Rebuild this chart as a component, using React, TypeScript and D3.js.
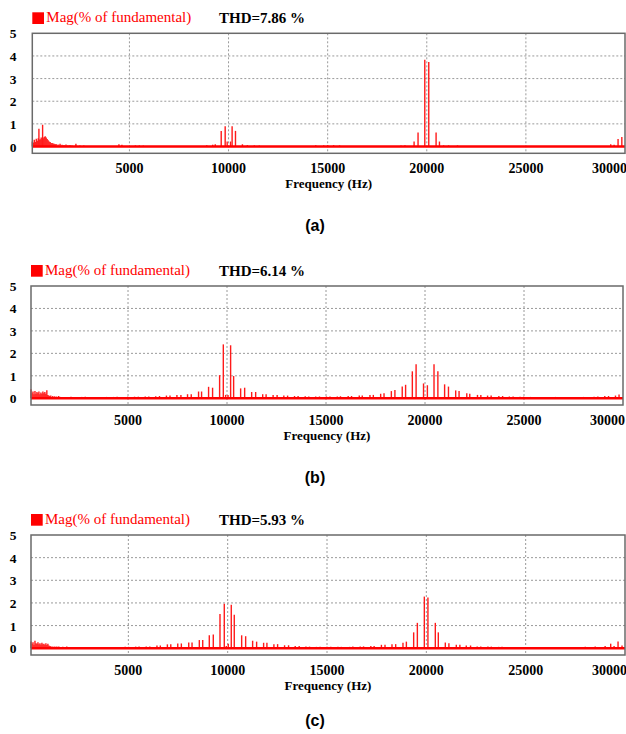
import * as d3 from "d3";

// harmonic spectra, [frequency Hz, magnitude % of fundamental]
const specA: [number, number][] = [
  [100, 0.22], [150, 0.18], [200, 0.3], [250, 0.2], [300, 0.34], [350, 0.25], [400, 0.36], [434, 0.78],
  [450, 0.3], [500, 0.32], [550, 0.4], [600, 0.3], [620, 0.96], [650, 0.36], [700, 0.42], [750, 0.45],
  [800, 0.4], [850, 0.33], [900, 0.28], [950, 0.22], [1000, 0.2], [1050, 0.16], [1100, 0.15], [1150, 0.13],
  [1200, 0.12], [1250, 0.1], [1300, 0.11], [1400, 0.09], [1500, 0.12], [1600, 0.08], [1700, 0.07],
  [1800, 0.09], [1900, 0.06], [2000, 0.07], [2100, 0.05], [2300, 0.12], [2500, 0.05], [2700, 0.04],
  [4470, 0.1], [4620, 0.08], [5300, 0.05], [5500, 0.05], [5700, 0.04], [8900, 0.06], [9200, 0.08],
  [9330, 0.1], [9630, 0.69], [9830, 0.9], [9930, 0.22], [10100, 0.22], [10180, 0.9], [10350, 0.69],
  [10700, 0.1], [10950, 0.06], [11300, 0.05], [11550, 0.04], [14400, 0.06], [14800, 0.05], [15000, 0.06],
  [15300, 0.06], [15600, 0.05], [18700, 0.05], [18900, 0.06], [19360, 0.22], [19560, 0.62], [19900, 3.83],
  [20100, 3.73], [20470, 0.62], [20640, 0.22], [20850, 0.05], [21100, 0.05], [21550, 0.05],
  [29280, 0.1], [29450, 0.08], [29650, 0.33], [29840, 0.42],
];

const specB: [number, number][] = [
  [100, 0.4], [150, 0.22], [200, 0.3], [250, 0.18], [300, 0.32], [350, 0.2], [400, 0.28], [450, 0.22],
  [500, 0.3], [550, 0.18], [600, 0.26], [650, 0.2], [700, 0.3], [750, 0.22], [800, 0.28], [850, 0.2],
  [900, 0.36], [950, 0.15], [1000, 0.12], [1050, 0.1], [1100, 0.12], [1200, 0.1], [1300, 0.09],
  [1400, 0.08], [1500, 0.1], [1590, 0.06], [1770, 0.06], [2120, 0.07], [2310, 0.06], [2660, 0.06],
  [2840, 0.07], [3190, 0.06], [3380, 0.06], [3730, 0.06], [3910, 0.06], [4260, 0.06], [4450, 0.07],
  [4800, 0.06], [4980, 0.07], [5330, 0.07], [5520, 0.07], [5870, 0.08], [6050, 0.08], [6400, 0.09],
  [6590, 0.1], [6940, 0.12], [7120, 0.12], [7470, 0.15], [7672, 0.15], [8006, 0.18], [8193, 0.18],
  [8563, 0.3], [8715, 0.3], [9069, 0.51], [9271, 0.47], [9626, 1.03], [9813, 2.4], [9930, 0.15],
  [10050, 0.15], [10182, 2.36], [10334, 0.99], [10688, 0.44], [10891, 0.47], [11245, 0.28], [11447, 0.28],
  [11802, 0.18], [11974, 0.18], [12328, 0.15], [12530, 0.15], [12870, 0.12], [13060, 0.12], [13410, 0.1],
  [13590, 0.1], [13950, 0.09], [14130, 0.08], [14480, 0.08], [14670, 0.08], [15020, 0.08], [15200, 0.08],
  [15570, 0.08], [15730, 0.09], [16120, 0.1], [16290, 0.1], [16680, 0.12], [16830, 0.12], [17220, 0.15],
  [17390, 0.15], [17760, 0.2], [17930, 0.22], [18300, 0.32], [18480, 0.37], [18850, 0.52], [19020, 0.6],
  [19360, 1.2], [19550, 1.52], [19925, 0.66], [20120, 0.58], [20455, 1.52], [20650, 1.2], [20990, 0.62],
  [21185, 0.52], [21550, 0.35], [21720, 0.32], [22110, 0.22], [22260, 0.2], [22650, 0.15], [22820, 0.15],
  [23160, 0.12], [23340, 0.12], [23730, 0.1], [23920, 0.1], [24260, 0.08], [24450, 0.08], [24800, 0.07],
  [24980, 0.07], [25330, 0.06], [25520, 0.06], [25870, 0.06], [26050, 0.06], [26400, 0.05], [26590, 0.06],
  [26940, 0.05], [27120, 0.06], [27470, 0.06], [27660, 0.05], [28010, 0.06], [28190, 0.06], [28540, 0.07],
  [28730, 0.08], [29080, 0.1], [29270, 0.1], [29620, 0.12], [29800, 0.17],
];

const specC: [number, number][] = [
  [100, 0.3], [150, 0.2], [200, 0.26], [250, 0.15], [300, 0.33], [350, 0.22], [400, 0.2], [450, 0.26],
  [500, 0.18], [550, 0.22], [600, 0.16], [650, 0.24], [700, 0.18], [750, 0.2], [800, 0.15], [850, 0.22],
  [900, 0.14], [950, 0.2], [1000, 0.12], [1050, 0.1], [1100, 0.09], [1200, 0.08], [1300, 0.08],
  [1400, 0.07], [1500, 0.08], [1700, 0.06], [1900, 0.07], [2100, 0.05], [2400, 0.05], [2900, 0.05],
  [3300, 0.05], [3800, 0.05], [4300, 0.05], [4840, 0.06], [5010, 0.06], [5370, 0.07], [5540, 0.07],
  [5900, 0.08], [6080, 0.08], [6440, 0.12], [6610, 0.12], [6965, 0.17], [7136, 0.17], [7487, 0.21],
  [7668, 0.21], [8040, 0.25], [8206, 0.25], [8573, 0.36], [8744, 0.36], [9075, 0.57], [9276, 0.6],
  [9613, 1.51], [9829, 1.96], [9930, 0.1], [10030, 0.2], [10181, 1.92], [10332, 1.48], [10704, 0.57],
  [10905, 0.53], [11256, 0.33], [11457, 0.29], [11809, 0.24], [11975, 0.24], [12327, 0.18], [12513, 0.18],
  [12864, 0.13], [13065, 0.13], [13400, 0.1], [13600, 0.1], [13940, 0.07], [14120, 0.07], [14470, 0.06],
  [14650, 0.06], [15000, 0.06], [15190, 0.06], [15550, 0.06], [15720, 0.06], [16140, 0.06], [16300, 0.07],
  [16670, 0.08], [16840, 0.08], [17206, 0.1], [17372, 0.1], [17739, 0.15], [17920, 0.15], [18271, 0.18],
  [18457, 0.18], [18824, 0.24], [18995, 0.29], [19362, 0.7], [19548, 1.12], [19899, 2.28], [20080, 2.24],
  [20452, 1.12], [20603, 0.7], [20955, 0.25], [21136, 0.22], [21508, 0.15], [21688, 0.15], [22010, 0.12],
  [22226, 0.12], [22560, 0.08], [22740, 0.08], [23100, 0.07], [23270, 0.07], [23640, 0.06], [23810, 0.06],
  [24170, 0.05], [24340, 0.05], [24700, 0.05], [25300, 0.05], [25800, 0.05], [26400, 0.05], [26900, 0.05],
  [27500, 0.05], [28000, 0.06], [28500, 0.07], [29000, 0.1], [29280, 0.2], [29450, 0.1], [29650, 0.3],
  [29850, 0.12],
];

const thdValues = ["7.86", "6.14", "5.93"];
const panelTags = ["(a)", "(b)", "(c)"];
const xTicks = [5000, 10000, 15000, 20000, 25000, 30000];
const yTicks = [0, 1, 2, 3, 4, 5];
const xDomain = [100, 30000];
const yDomain = [-0.3, 5];

const frames = [
  { top: 33.3, bottom: 153.3, left: 32.3, right: 625, tagY: 231 },
  { top: 286, bottom: 405, left: 31, right: 623, tagY: 483 },
  { top: 535, bottom: 655, left: 31, right: 625, tagY: 726 },
];
const spectra = [specA, specB, specC];

const serif = "'Liberation Serif', 'Times New Roman', serif";

function Panel({ i }: { i: number }) {
  const f = frames[i];
  const data = spectra[i];
  const x = d3.scaleLinear().domain(xDomain).range([f.left, f.right]);
  const y = d3.scaleLinear().domain(yDomain).range([f.bottom, f.top]);
  const y0 = y(0);
  const cx = (f.left + f.right) / 2;

  return (
    <g>
      {/* legend */}
      <rect x={f.left} y={f.top - 21} width={11.7} height={11.7} fill="#ff0000" />
      <text x={f.left + 14} y={f.top - 11} fontFamily={serif} fontSize={15} fill="#ff0000">
        Mag(% of fundamental)
      </text>
      <text x={219} y={f.top - 10.5} fontFamily={serif} fontSize={15} fontWeight="bold" fill="#000">
        THD={thdValues[i]} %
      </text>

      {/* grid */}
      {yTicks.filter((v) => v > 0 && v < 5).map((v) => (
        <line key={"gy" + v} x1={f.left} x2={f.right} y1={y(v)} y2={y(v)}
          stroke="#9a9a9a" strokeDasharray="2,2" strokeWidth={1} />
      ))}
      {xTicks.filter((v) => v < 30000).map((v) => (
        <line key={"gx" + v} x1={x(v)} x2={x(v)} y1={f.top} y2={f.bottom}
          stroke="#9a9a9a" strokeDasharray="2,2" strokeWidth={1} />
      ))}

      {/* spectrum bars */}
      {data.map(([hz, m], k) => (
        <line key={k} x1={x(hz)} x2={x(hz)} y1={y0} y2={y(m)} stroke="#ff1a1a" strokeWidth={1.4} />
      ))}
      <line x1={f.left} x2={f.right} y1={y0} y2={y0} stroke="#ff0000" strokeWidth={2.5} />

      {/* frame */}
      <rect x={f.left} y={f.top} width={f.right - f.left} height={f.bottom - f.top}
        fill="none" stroke="#6a6a6a" strokeWidth={1.5} />

      {/* axes labels */}
      {yTicks.map((v) => (
        <text key={"ty" + v} x={13} y={y(v) + 5} textAnchor="middle" fontFamily={serif}
          fontSize={13.5} fontWeight="bold">{v}</text>
      ))}
      {xTicks.map((v) => {
        const last = v === 30000;
        return (
          <text key={"tx" + v} x={last ? f.right + 2 : x(v)} y={f.bottom + 19.5}
            textAnchor={last ? "end" : "middle"} fontFamily={serif} fontSize={14} fontWeight="bold">
            {v}
          </text>
        );
      })}
      <text x={cx} y={f.bottom + 35} textAnchor="middle" fontFamily={serif} fontSize={13} fontWeight="bold">
        Frequency (Hz)
      </text>
      <text x={315} y={f.tagY} textAnchor="middle" fontFamily="'Liberation Sans', Arial, sans-serif"
        fontSize={16} fontWeight="bold">
        {panelTags[i]}
      </text>
    </g>
  );
}

export default function App() {
  return (
    <svg width={626} height={734} style={{ position: "absolute", left: 0, top: 0, background: "#fff" }}>
      <rect width={626} height={734} fill="#fff" />
      {frames.map((_, i) => (
        <Panel key={i} i={i} />
      ))}
    </svg>
  );
}
